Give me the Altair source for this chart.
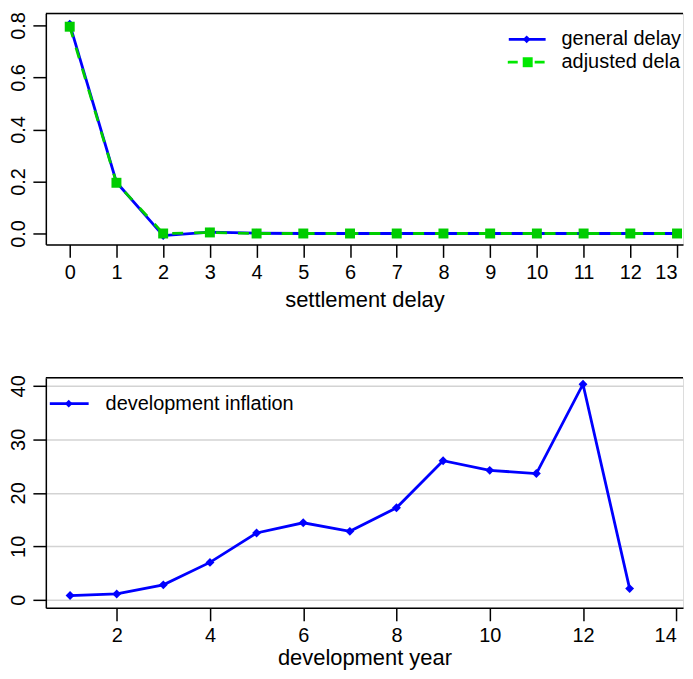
import altair as alt
import pandas as pd

# ---- data ----
delay = list(range(14))
general_delay = [0.805, 0.197, -0.008, 0.005, 0.001, 0.0, 0.0, 0.0, 0.0, 0.0, 0.0, 0.0, 0.0, 0.0]
adjusted_delay = [0.795, 0.195, 0.0, 0.004, 0.0, 0.0, 0.0, 0.0, 0.0, 0.0, 0.0, 0.0, 0.0, 0.0]

dev_year = list(range(1, 14))
dev_inflation = [0.8, 1.1, 2.8, 7.0, 12.5, 14.4, 12.8, 17.2, 26.0, 24.2, 23.6, 40.3, 2.1]

x_ticks_top = list(range(14))
y_ticks_top = [0.0, 0.2, 0.4, 0.6, 0.8]
x_ticks_bot = [2, 4, 6, 8, 10, 12, 14]
y_ticks_bot = [0, 5, 10, 15, 20, 25, 30, 35, 40]

BLUE = "#0000FF"
GREEN = "#00CD00"
GREEN_LEG = "#00E800"
FONT = "Liberation Sans"

W = 640

df_top = pd.DataFrame({"delay": delay, "general": general_delay, "adjusted": adjusted_delay})
df_bot = pd.DataFrame({"year": dev_year, "inflation": dev_inflation})

def xaxis(values, title, tpad):
    return alt.Axis(values=values, tickSize=13, tickWidth=1.5, tickColor="black",
                    labelFontSize=20, labelPadding=5, labelColor="black", labelFont=FONT,
                    domain=True, domainColor="black", domainWidth=1.5, grid=False,
                    title=title, titleFontSize=22,
                    titleFontWeight="normal", titleFont=FONT, titleColor="black",
                    titlePadding=tpad, labelFlush=8, labelOverlap=False)

def yaxis(values, fmt, grid, expr):
    kw = dict(values=values, format=fmt, tickSize=13, tickWidth=1.5, tickColor="black",
              labelFontSize=20, labelPadding=4, labelColor="black", labelFont=FONT,
              labelAngle=270, domain=True, domainColor="black", domainWidth=1.5,
              grid=grid, title="", labelFlush=False, labelOverlap=False)
    if grid:
        kw.update(gridColor="#d3d3d3", gridWidth=1.5)
    if expr:
        kw.update(labelExpr=expr)
    return alt.Axis(**kw)

one = pd.DataFrame({"k": [0]})
leg = alt.Chart(one)

def top_border():
    return leg.mark_rule(color="black", strokeWidth=1.5).encode(
        x=alt.value(0), x2=alt.value(W), y=alt.value(0))

# x range chosen so the panel is cut at the right like the reference
xs_top = alt.Scale(domain=[-0.5115, 13.128], nice=False, zero=False)
ys_top = alt.Scale(domain=[-0.042, 0.846], nice=False, zero=False)

base_top = alt.Chart(df_top)
x_top = alt.X("delay:Q", scale=xs_top, axis=xaxis(x_ticks_top, "settlement delay", 7))

blue_line = base_top.mark_line(color=BLUE, strokeWidth=2.8).encode(
    x=x_top, y=alt.Y("general:Q", scale=ys_top, axis=yaxis(y_ticks_top, ".1f", False, None)))
blue_pts = base_top.mark_point(shape="diamond", filled=True, size=80, color=BLUE, opacity=1).encode(
    x="delay:Q", y="general:Q")
green_line = base_top.mark_line(color=GREEN, strokeWidth=2.8, strokeDash=[11, 11]).encode(
    x="delay:Q", y="adjusted:Q")
green_pts = base_top.mark_square(size=100, color=GREEN, opacity=1).encode(
    x="delay:Q", y="adjusted:Q")

leg_top = [
    leg.mark_rule(color=BLUE, strokeWidth=2.8).encode(x=alt.value(465), x2=alt.value(502), y=alt.value(26)),
    leg.mark_point(shape="diamond", filled=True, size=60, color=BLUE, opacity=1).encode(x=alt.value(483), y=alt.value(26)),
    leg.mark_rule(color=GREEN_LEG, strokeWidth=2.8, strokeDash=[10, 17]).encode(x=alt.value(464), x2=alt.value(502), y=alt.value(49)),
    leg.mark_square(size=100, color=GREEN_LEG, opacity=1).encode(x=alt.value(484), y=alt.value(49)),
    leg.mark_text(align="left", baseline="middle", fontSize=20, font=FONT, color="black",
                  limit=122, ellipsis="\u200b").encode(
        x=alt.value(518), y=alt.value(26), text=alt.value("general delay")),
    leg.mark_text(align="left", baseline="middle", fontSize=20, font=FONT, color="black",
                  limit=122, ellipsis="\u200b").encode(
        x=alt.value(518), y=alt.value(49), text=alt.value("adjusted delay")),
]

top = alt.layer(blue_line, blue_pts, green_line, green_pts, top_border(), *leg_top).properties(width=W, height=232)

xs_bot = alt.Scale(domain=[0.48, 14.145], nice=False, zero=False)
ys_bot = alt.Scale(domain=[-1.49, 41.49], nice=False, zero=False)
base_bot = alt.Chart(df_bot)

inf_line = base_bot.mark_line(color=BLUE, strokeWidth=2.8).encode(
    x=alt.X("year:Q", scale=xs_bot, axis=xaxis(x_ticks_bot, "development year", 2)),
    y=alt.Y("inflation:Q", scale=ys_bot,
            axis=yaxis(y_ticks_bot, "d", True, "datum.value % 10 == 0 ? datum.label : ''")))
inf_pts = base_bot.mark_point(shape="diamond", filled=True, size=80, color=BLUE, opacity=1).encode(
    x="year:Q", y="inflation:Q")

leg_bot = [
    leg.mark_rule(color=BLUE, strokeWidth=2.8).encode(x=alt.value(4), x2=alt.value(43), y=alt.value(26)),
    leg.mark_point(shape="diamond", filled=True, size=60, color=BLUE, opacity=1).encode(x=alt.value(23), y=alt.value(26)),
    leg.mark_text(align="left", baseline="middle", fontSize=20, font=FONT, color="black").encode(
        x=alt.value(60), y=alt.value(26), text=alt.value("development inflation")),
]

bottom = alt.layer(inf_line, inf_pts, top_border(), *leg_bot).properties(width=W, height=231)

chart = alt.vconcat(top, bottom, spacing=63).properties(
    padding={"left": 0, "top": 1, "right": 0, "bottom": 0}
).configure_view(stroke=None).configure(background="white")

chart.save("out.html", embed_options={"renderer": "svg", "actions": False})
